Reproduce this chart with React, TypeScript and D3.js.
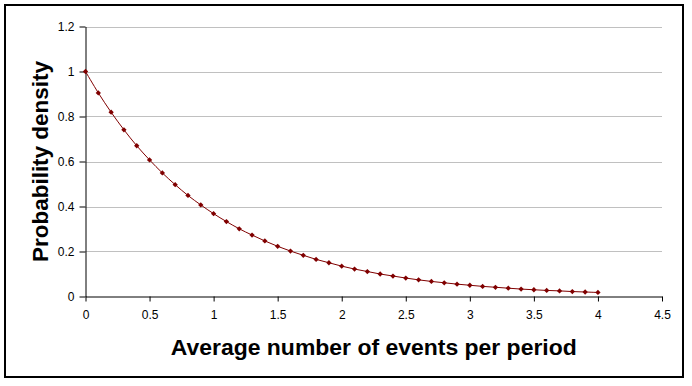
import React, { useEffect, useRef } from "react";
import * as d3 from "d3";

// average number of events per period
const xValues = [
  0, 0.1, 0.2, 0.3, 0.4, 0.5, 0.6, 0.7, 0.8, 0.9, 1.0, 1.1, 1.2, 1.3, 1.4,
  1.5, 1.6, 1.7, 1.8, 1.9, 2.0, 2.1, 2.2, 2.3, 2.4, 2.5, 2.6, 2.7, 2.8, 2.9,
  3.0, 3.1, 3.2, 3.3, 3.4, 3.5, 3.6, 3.7, 3.8, 3.9, 4.0,
];
// probability density
const densities = [
  1.0, 0.905, 0.819, 0.741, 0.67, 0.607, 0.549, 0.497, 0.449, 0.407, 0.368,
  0.333, 0.301, 0.273, 0.247, 0.223, 0.202, 0.183, 0.165, 0.15, 0.135, 0.122,
  0.111, 0.1, 0.091, 0.082, 0.074, 0.067, 0.061, 0.055, 0.05, 0.045, 0.041,
  0.037, 0.033, 0.03, 0.027, 0.025, 0.022, 0.02, 0.018,
];
const xTicks = [0, 0.5, 1, 1.5, 2, 2.5, 3, 3.5, 4, 4.5];
const yTicks = [0, 0.2, 0.4, 0.6, 0.8, 1, 1.2];

const W = 692;
const H = 386;
const font = "Arial, 'Liberation Sans', sans-serif";

export default function App() {
  const svgRef = useRef<SVGSVGElement>(null);

  useEffect(() => {
    const svg = d3.select(svgRef.current);
    svg.selectAll("*").remove();

    const x = d3.scaleLinear().domain([0, 4.5]).range([85.5, 662]);
    const y = d3.scaleLinear().domain([0, 1.2]).range([296.5, 26.5]);

    // chart border
    svg.append("rect")
      .attr("x", 5).attr("y", 5)
      .attr("width", 678).attr("height", 372)
      .attr("fill", "white")
      .attr("stroke", "black")
      .attr("stroke-width", 2);

    // gridlines
    svg.append("g")
      .selectAll("line")
      .data(yTicks.filter((t) => t > 0))
      .enter()
      .append("line")
      .attr("x1", x(0)).attr("x2", x(4.5))
      .attr("y1", (d) => Math.round(y(d)) + 0.5)
      .attr("y2", (d) => Math.round(y(d)) + 0.5)
      .attr("stroke", "#c0c0c0")
      .attr("stroke-width", 1);

    // x axis
    const xAxis = svg.append("g")
      .attr("transform", `translate(0,${y(0)})`)
      .call(d3.axisBottom(x).tickValues(xTicks).tickSize(5).tickSizeOuter(0)
        .tickFormat((d) => String(d)));
    xAxis.select(".domain").attr("stroke", "black");
    xAxis.selectAll(".tick line").attr("stroke", "black");
    xAxis.selectAll(".tick text")
      .attr("font-family", font).attr("font-size", 12)
      .attr("fill", "black").attr("dy", "1.2em");

    // y axis
    const yAxis = svg.append("g")
      .attr("transform", `translate(${x(0)},0)`)
      .call(d3.axisLeft(y).tickValues(yTicks).tickSize(6).tickSizeOuter(0)
        .tickFormat((d) => String(d)));
    yAxis.select(".domain").attr("stroke", "black");
    yAxis.selectAll(".tick line").attr("stroke", "black");
    yAxis.selectAll(".tick text")
      .attr("font-family", font).attr("font-size", 12)
      .attr("fill", "black").attr("x", -11);

    // curve
    const pts = xValues.map((v, i) => [v, densities[i]] as [number, number]);
    const line = d3.line<[number, number]>()
      .x((d) => x(d[0]))
      .y((d) => y(d[1]))
      .curve(d3.curveCatmullRom);
    svg.append("path")
      .datum(pts)
      .attr("d", line)
      .attr("fill", "none")
      .attr("stroke", "#800000")
      .attr("stroke-width", 1);

    // markers (small square diamonds)
    const marker = d3.symbol().type(d3.symbolSquare).size(14);
    svg.append("g")
      .selectAll("path")
      .data(pts)
      .enter()
      .append("path")
      .attr("d", marker)
      .attr("transform", (d) => `translate(${x(d[0])},${y(d[1])}) rotate(45)`)
      .attr("fill", "#800000");

    // axis titles
    svg.append("text")
      .attr("x", (x(0) + x(4.5)) / 2)
      .attr("y", 354.5)
      .attr("text-anchor", "middle")
      .attr("font-family", font)
      .attr("font-weight", "bold")
      .attr("font-size", 22)
      .attr("textLength", 406)
      .attr("lengthAdjust", "spacingAndGlyphs")
      .text("Average number of events per period");

    svg.append("text")
      .attr("transform", `translate(48,${(y(0) + y(1.2)) / 2}) rotate(-90)`)
      .attr("text-anchor", "middle")
      .attr("font-family", font)
      .attr("font-weight", "bold")
      .attr("font-size", 22)
      .attr("textLength", 201)
      .attr("lengthAdjust", "spacingAndGlyphs")
      .text("Probability density");
  }, []);

  return (
    <svg
      ref={svgRef}
      width={W}
      height={H}
      style={{ position: "absolute", left: 0, top: 0, background: "white" }}
    />
  );
}
